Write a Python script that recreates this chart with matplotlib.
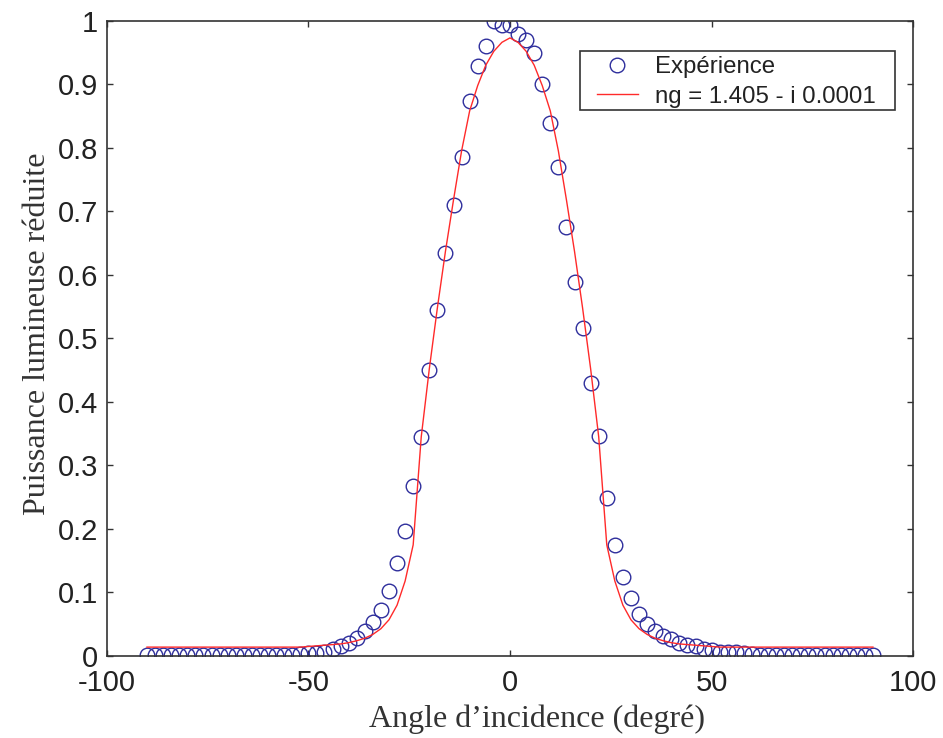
import matplotlib
matplotlib.use("Agg")
import matplotlib.pyplot as plt
from matplotlib.patches import Rectangle
import numpy as np

# ---- data ----
angles = list(range(-90, 92, 2))

experience = (
    [0.001] * 18 +
    [0.002, 0.003, 0.004, 0.005, 0.007, 0.011, 0.015, 0.020, 0.028, 0.039,
     0.053, 0.072, 0.102, 0.146, 0.197, 0.268, 0.344, 0.451, 0.544, 0.634,
     0.710, 0.785, 0.874, 0.929, 0.961, 1.000, 0.993] +
    [0.993] +
    [0.979, 0.969, 0.950, 0.900, 0.839, 0.769, 0.675, 0.588, 0.517, 0.429,
     0.346, 0.248, 0.175, 0.124, 0.092, 0.066, 0.051, 0.039, 0.031, 0.026,
     0.021, 0.017, 0.015, 0.011, 0.009, 0.007, 0.007, 0.007, 0.004, 0.003,
     0.002] +
    [0.002] * 14
)

model_half = [0.973, 0.966, 0.952, 0.930, 0.898, 0.858, 0.795, 0.718, 0.637,
              0.548, 0.452, 0.345, 0.175, 0.118, 0.080, 0.057, 0.043, 0.034,
              0.028, 0.024, 0.021, 0.019, 0.018, 0.017, 0.016, 0.015] + [0.014] * 20
model = model_half[::-1] + model_half[1:]

xticks = [-100, -50, 0, 50, 100]
yticks = [0, 0.1, 0.2, 0.3, 0.4, 0.5, 0.6, 0.7, 0.8, 0.9, 1]
ytick_labels = ["0", "0.1", "0.2", "0.3", "0.4", "0.5", "0.6", "0.7", "0.8", "0.9", "1"]

label_exp = "Expérience"
label_model = "ng = 1.405 - i 0.0001"
xlabel = "Angle d\u2019incidence (degré)"
ylabel = "Puissance lumineuse réduite"

# ---- plot ----
fig = plt.figure(figsize=(9.43, 7.38), dpi=100)
ax = fig.add_axes([0.1131, 0.1111, 0.8554, 0.8608])

ax.plot(angles, experience, linestyle="none", marker="o", markersize=10.5,
        markerfacecolor="none", markeredgecolor="#2e2e9c", markeredgewidth=1.0,
        label=label_exp)
ax.plot(angles, model, color="#ff2a2a", linewidth=1.0, label=label_model)

ax.set_xlim(-100, 100)
ax.set_ylim(0, 1)
ax.set_xticks(xticks)
ax.set_xticklabels([str(t) for t in xticks])
ax.set_yticks(yticks)
ax.set_yticklabels(ytick_labels)

spine_color = "#333333"
for s in ax.spines.values():
    s.set_color(spine_color)
    s.set_linewidth(1.2)

ax.tick_params(direction="in", length=4.5, width=1.0, colors=spine_color,
               top=True, right=True, labelsize=21)
ax.tick_params(axis="x", pad=9.5)
ax.tick_params(axis="y", pad=6)
for lab in ax.get_xticklabels() + ax.get_yticklabels():
    lab.set_fontfamily("Liberation Sans")
    lab.set_color("#222222")

ax.set_xlabel(xlabel, fontfamily="Liberation Serif", fontsize=23, color="#333333")
ax.set_ylabel(ylabel, fontfamily="Liberation Serif", fontsize=23, color="#333333")
ax.xaxis.set_label_coords(0.533, -0.076)
ax.yaxis.set_label_coords(-0.068, 0.508)

# legend box (frame drawn separately to match the reference proportions)
box = Rectangle((0.5868, 0.8594), 0.9773 - 0.5868, 0.9528 - 0.8594,
                transform=ax.transAxes, facecolor="white", edgecolor="#333333",
                linewidth=1.2, zorder=4)
ax.add_patch(box)

leg = ax.legend(loc="upper left", bbox_to_anchor=(0.6079, 0.9440),
                borderaxespad=0, borderpad=0, frameon=False,
                prop={"family": "Liberation Sans", "size": 17.3},
                handlelength=1.7, handletextpad=0.7, labelspacing=0.3)
leg.set_zorder(5)
for t in leg.get_texts():
    t.set_color("#222222")

fig.savefig("out.png", dpi=100)
